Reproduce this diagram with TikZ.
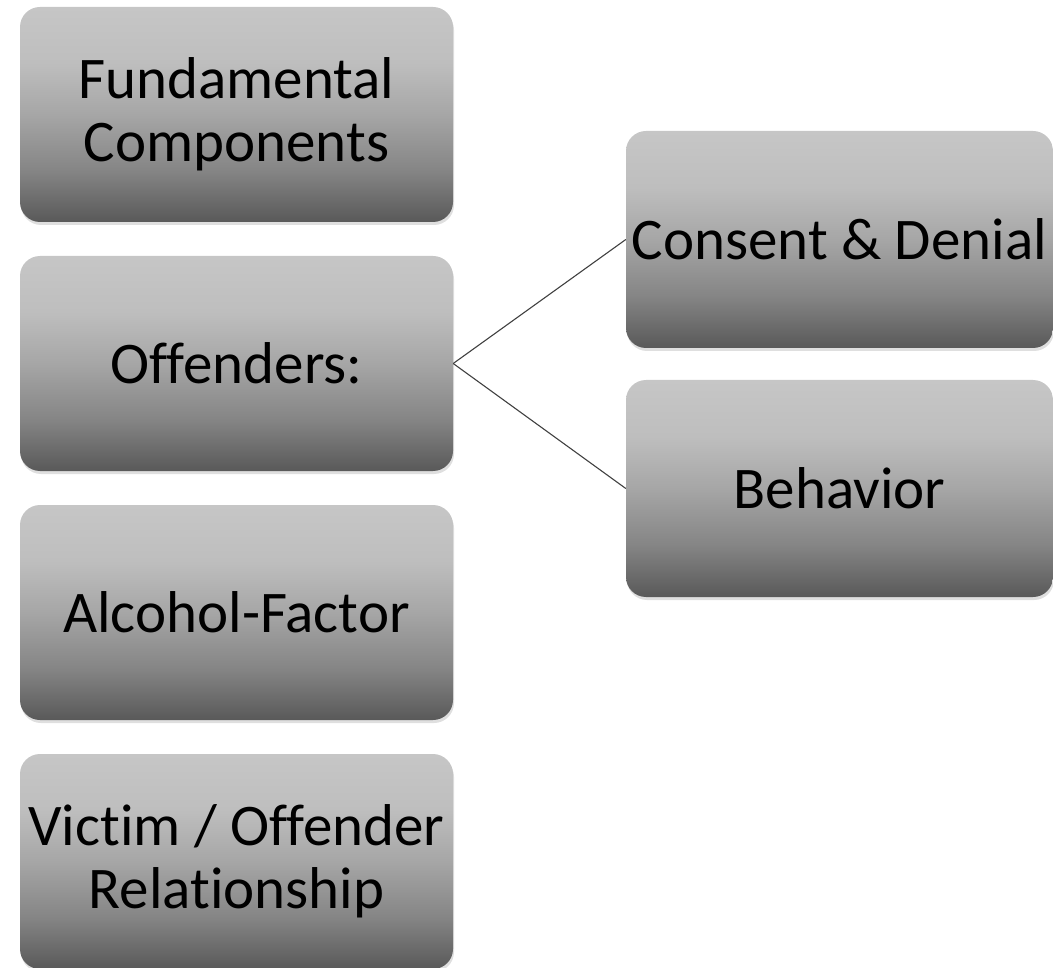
\documentclass[tikz,border=0pt]{standalone}
\usepackage{fontspec}
\setmainfont{Carlito}[Ligatures={NoCommon,NoRequired}, RawFeature={-liga;-clig}]
\usetikzlibrary{shadows}
\definecolor{gtop}{HTML}{C6C6C6}
\definecolor{gup}{HTML}{BEBEBE}
\definecolor{gmid}{HTML}{A6A6A6}
\definecolor{glow}{HTML}{858585}
\definecolor{gbot}{HTML}{595959}
\definecolor{linkc}{HTML}{404040}
\pgfdeclareverticalshading{boxshade}{100bp}{color(0bp)=(gbot); color(25bp)=(gbot); color(37bp)=(glow); color(50bp)=(gmid); color(62bp)=(gup); color(75bp)=(gtop); color(100bp)=(gtop)}
\tikzset{
  gbox/.style={rounded corners=20pt, shading=boxshade, inner sep=0pt, align=center,
    font=\fontsize{59}{63}\selectfont,
    drop shadow={shadow xshift=1pt, shadow yshift=-3pt, opacity=0.25}},
  lbox/.style={gbox, minimum width=433pt, minimum height=215pt},
  rbox/.style={gbox, minimum width=427pt, minimum height=217pt},
  link/.style={draw=linkc, line width=1.1pt}
}
\begin{document}
\begin{tikzpicture}[x=1pt,y=-1pt]
\useasboundingbox (0,0) rectangle (1053,968);
\node[lbox] (b1) at (236.5,114.5) {Fundamental\\Components};
\node[lbox] (b2) at (236.5,363.5) {Offenders:};
\node[lbox] (b3) at (236.5,612.5) {Alcohol-Factor};
\node[lbox] (b4) at (236.5,861.5) {Victim / Offender\\Relationship};
\node[rbox] (r1) at (839.5,239.5) {Consent \& Denial};
\node[rbox] (r2) at (839.5,488.5) {Behavior};
\draw[link] (b2.east) -- (r1.west);
\draw[link] (b2.east) -- (r2.west);
\end{tikzpicture}
\end{document}
